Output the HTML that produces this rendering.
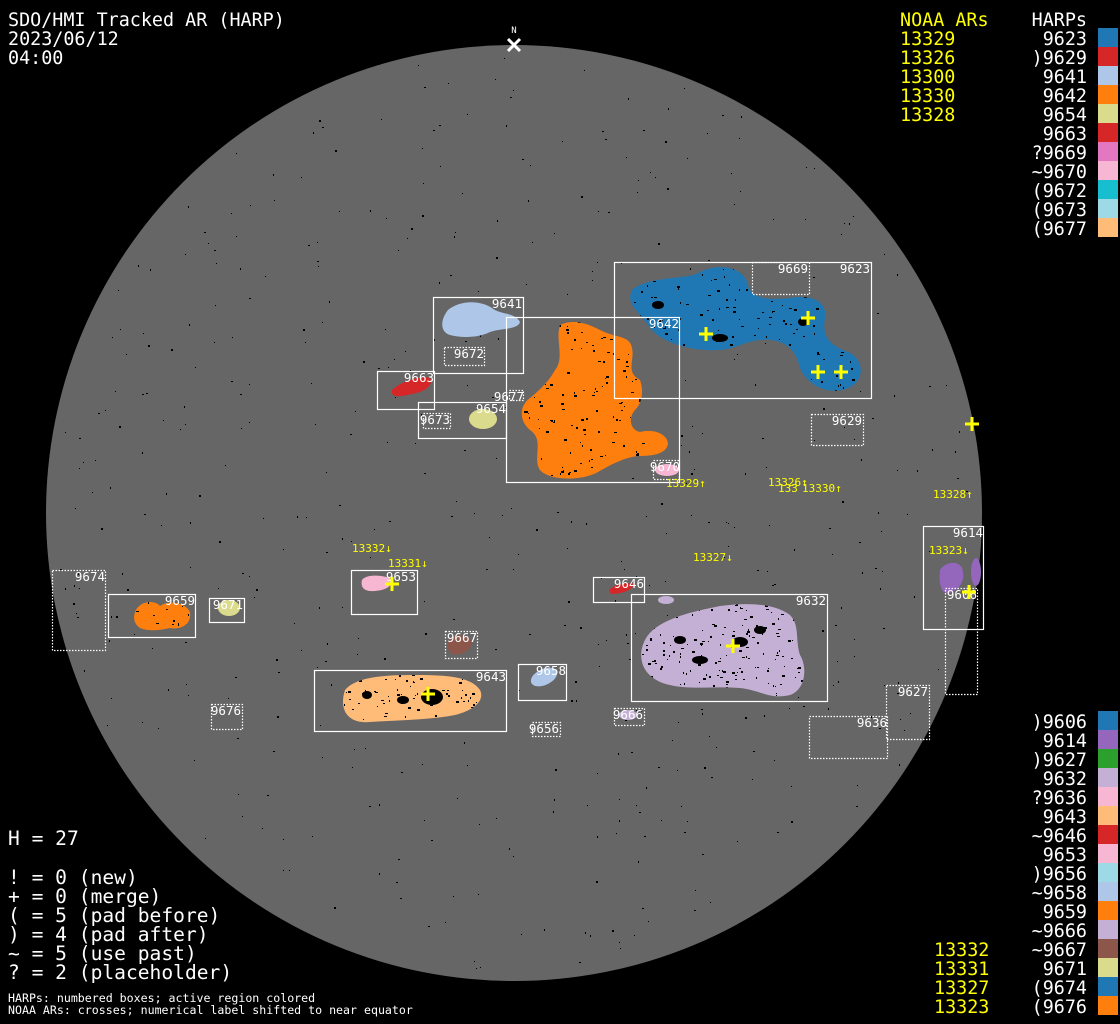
<!DOCTYPE html>
<html><head><meta charset="utf-8"><style>
html,body{margin:0;padding:0;background:#000;}
svg{display:block;}
text{font-family:"DejaVu Sans Mono","Liberation Mono",monospace;}
</style></head><body>
<svg id="s" width="1120" height="1024" viewBox="0 0 1120 1024" xmlns="http://www.w3.org/2000/svg">
<defs>
<path id="bB" d="M632,290 C650,275 690,280 700,272 C720,262 745,268 748,285 C752,300 770,300 790,298 C812,294 828,302 825,318 C822,335 828,345 848,352 C866,360 866,385 842,390 C820,394 805,380 800,368 C796,350 785,338 760,340 C740,342 735,352 705,350 C680,348 660,340 650,328 C640,312 625,305 632,290 Z"/>
<path id="bO" d="M560,325 C575,318 590,325 600,330 C615,338 630,335 632,348 C635,360 625,372 640,380 C645,395 640,405 635,410 C628,418 630,430 640,432 C655,428 668,435 668,444 C666,455 650,456 638,456 C625,457 610,465 598,472 C580,482 548,480 540,470 C532,458 545,440 530,430 C518,420 520,405 530,398 C540,390 550,380 555,370 C565,358 555,340 560,325 Z"/>
<path id="bP" d="M645,640 C655,620 690,612 720,606 C750,602 775,604 790,615 C800,625 795,640 800,655 C808,668 805,690 790,695 C770,700 760,690 740,688 C715,686 690,690 670,685 C645,680 635,660 645,640 Z"/>
<path id="bT" d="M345,690 C355,678 380,675 410,675 C440,675 470,675 480,690 C485,700 475,710 455,715 C430,720 400,720 370,722 C350,724 338,712 345,690 Z"/>
<path id="bF" d="M135,612 C140,600 155,600 160,606 C168,600 185,602 190,612 C192,625 180,630 170,628 C160,630 150,632 140,628 C134,624 133,618 135,612 Z"/>
<clipPath id="cp"><use href="#bB"/><use href="#bO"/><use href="#bP"/><use href="#bT"/><use href="#bF"/></clipPath>
</defs>
<rect width="1120" height="1024" fill="#000"/>
<circle cx="514" cy="513" r="468" fill="#666666"/>
<g id="dots"></g>

<use href="#bB" fill="#1f77b4"/>
<use href="#bO" fill="#ff7f0e"/>
<path fill="#aec7e8" d="M448,310 C460,300 480,300 492,308 C500,315 515,312 520,322 C518,330 500,328 490,332 C478,338 462,338 450,335 C440,332 440,320 448,310 Z"/>
<path fill="#d62728" d="M392,390 C400,382 420,375 430,378 C434,385 425,392 412,394 C400,397 390,398 392,390 Z"/>
<ellipse cx="483" cy="419" rx="14" ry="10" fill="#dbdb8d"/>
<ellipse cx="667" cy="470" rx="12" ry="6" fill="#f7b6d2"/>
<path fill="#9467bd" d="M940,570 C945,562 958,560 962,568 C966,580 960,588 952,592 C944,596 938,590 940,570 Z"/>
<ellipse cx="976" cy="572" rx="5" ry="14" fill="#9467bd"/>
<use href="#bP" fill="#c5b0d5"/>
<ellipse cx="666" cy="600" rx="8" ry="4" fill="#c5b0d5"/>
<ellipse cx="628" cy="715" rx="9" ry="5" fill="#c5b0d5"/>
<path fill="#f7b6d2" d="M362,580 C366,574 382,575 390,578 C394,585 388,590 375,591 C365,592 360,588 362,580 Z"/>
<path fill="#d62728" d="M609,590 C615,584 628,582 634,584 C632,591 620,594 611,594 Z"/>
<path fill="#8c564b" d="M449,640 C455,632 470,635 472,642 C470,652 460,656 452,654 C447,650 447,645 449,640 Z"/>
<use href="#bF" fill="#ff7f0e"/>
<ellipse cx="229" cy="608" rx="11" ry="8" fill="#dbdb8d"/>
<use href="#bT" fill="#ffbb78"/>
<ellipse cx="544" cy="677" rx="14" ry="8" fill="#aec7e8" transform="rotate(-25 544 677)"/>
<g id="specks" clip-path="url(#cp)" fill="#000"></g>
<g fill="#000">
<ellipse cx="432" cy="697" rx="11" ry="8"/><ellipse cx="367" cy="695" rx="5" ry="4"/><ellipse cx="403" cy="700" rx="6" ry="4"/>
<ellipse cx="720" cy="338" rx="8" ry="4"/><ellipse cx="658" cy="305" rx="6" ry="4"/><ellipse cx="803" cy="322" rx="5" ry="4"/>
<ellipse cx="740" cy="642" rx="8" ry="5"/><ellipse cx="700" cy="660" rx="8" ry="4"/><ellipse cx="680" cy="640" rx="6" ry="4"/><ellipse cx="760" cy="630" rx="6" ry="4"/>
</g>

<g fill="none" stroke="#fff" stroke-width="1.2">
<rect x="614.5" y="262.5" width="257" height="136"/>
<rect x="506.5" y="317.5" width="173" height="165"/>
<rect x="433.5" y="297.5" width="90" height="76"/>
<rect x="377.5" y="371.5" width="57" height="38"/>
<rect x="418.5" y="402.5" width="88" height="36"/>
<rect x="923.5" y="526.5" width="60" height="103"/>
<rect x="631.5" y="594.5" width="196" height="107"/>
<rect x="593.5" y="577.5" width="51" height="25"/>
<rect x="351.5" y="570.5" width="66" height="44"/>
<rect x="108.5" y="594.5" width="87" height="43"/>
<rect x="209.5" y="598.5" width="35" height="24"/>
<rect x="314.5" y="670.5" width="192" height="61"/>
<rect x="518.5" y="664.5" width="48" height="36"/>
</g>
<g fill="none" stroke="#fff" stroke-width="1.2" stroke-dasharray="1.5 1.5">
<rect x="752.5" y="262.5" width="57" height="32"/>
<rect x="444.5" y="347.5" width="40" height="18"/>
<rect x="423.5" y="413.5" width="27" height="15"/>
<rect x="509.5" y="390.5" width="14" height="10"/>
<rect x="653.5" y="460.5" width="26" height="19"/>
<rect x="811.5" y="414.5" width="52" height="31"/>
<rect x="945.5" y="588.5" width="32" height="106"/>
<rect x="886.5" y="685.5" width="43" height="54"/>
<rect x="809.5" y="716.5" width="78" height="42"/>
<rect x="445.5" y="631.5" width="32" height="27"/>
<rect x="52.5" y="570.5" width="53" height="80"/>
<rect x="532.5" y="722.5" width="28" height="14"/>
<rect x="614.5" y="708.5" width="30" height="17"/>
<rect x="211.5" y="704.5" width="31" height="25"/>
</g>
<g fill="#fff" font-size="12.5" text-anchor="end">
<text x="870" y="273">9623</text><text x="808" y="273">9669</text>
<text x="679" y="328">9642</text><text x="522" y="308">9641</text>
<text x="484" y="358">9672</text><text x="434" y="382">9663</text>
<text x="506" y="413">9654</text><text x="450" y="424">9673</text>
<text x="524" y="401">9677</text><text x="680" y="471">9670</text>
<text x="862" y="425">9629</text><text x="983" y="537">9614</text>
<text x="977" y="599">9606</text><text x="928" y="696">9627</text>
<text x="887" y="727">9636</text><text x="826" y="605">9632</text>
<text x="644" y="588">9646</text><text x="416" y="581">9653</text>
<text x="477" y="642">9667</text><text x="195" y="605">9659</text>
<text x="243" y="609">9671</text><text x="105" y="581">9674</text>
<text x="506" y="681">9643</text><text x="566" y="675">9658</text>
<text x="559" y="733">9656</text><text x="643" y="719">9666</text>
<text x="241" y="715">9676</text>
</g>

<g stroke="#ffff00" stroke-width="3">
<path d="M699,334h14M706,327v14"/><path d="M801,318h14M808,311v14"/>
<path d="M811,372h14M818,365v14"/><path d="M834,372h14M841,365v14"/>
<path d="M965,424h14M972,417v14"/><path d="M385,584h14M392,577v14"/>
<path d="M726,646h14M733,639v14"/><path d="M421,694h14M428,687v14"/>
<path d="M962,592h14M969,585v14"/>
</g>
<g fill="#ffff00" font-size="11">
<text x="666" y="487">13329↑</text><text x="768" y="486">13326↑</text>
<text x="778" y="492">133</text><text x="802" y="492">13330↑</text>
<text x="933" y="498">13328↑</text><text x="352" y="552">13332↓</text>
<text x="388" y="567">13331↓</text><text x="693" y="561">13327↓</text>
<text x="929" y="554">13323↓</text>
</g>

<text x="514" y="33" fill="#fff" font-size="9" text-anchor="middle">N</text>
<path d="M508,39l12,12M520,39l-12,12" stroke="#fff" stroke-width="3"/>

<g fill="#fff" font-size="18.4">
<text x="8" y="26">SDO/HMI Tracked AR (HARP)</text>
<text x="8" y="45">2023/06/12</text>
<text x="8" y="64">04:00</text>
</g>
<g fill="#fff" font-size="19.6">
<text x="8" y="845">H = 27</text>
<text x="8" y="884">! = 0 (new)</text>
<text x="8" y="903">+ = 0 (merge)</text>
<text x="8" y="922">( = 5 (pad before)</text>
<text x="8" y="941">) = 4 (pad after)</text>
<text x="8" y="960">~ = 5 (use past)</text>
<text x="8" y="979">? = 2 (placeholder)</text>
</g>
<g fill="#fff" font-size="11.6">
<text x="8" y="1002">HARPs: numbered boxes; active region colored</text>
<text x="8" y="1014">NOAA ARs: crosses; numerical label shifted to near equator</text>
</g>
<g fill="#ffff00" font-size="18.4">
<text x="900" y="26">NOAA ARs</text>
<text x="900" y="45">13329</text><text x="900" y="64">13326</text><text x="900" y="83">13300</text>
<text x="900" y="102">13330</text><text x="900" y="121">13328</text>
<text x="934" y="956">13332</text><text x="934" y="975">13331</text><text x="934" y="994">13327</text><text x="934" y="1013">13323</text>
</g>
<g fill="#fff" font-size="18.4" text-anchor="end" id="leg">
<text x="1087" y="26">HARPs</text>
</g>
</svg>
<script>
(function(){
var NS="http://www.w3.org/2000/svg";
var leg=document.getElementById("leg");
var s=document.getElementById("s");
var top=[["9623","#1f77b4"],[")9629","#d62728"],["9641","#aec7e8"],["9642","#ff7f0e"],["9654","#dbdb8d"],["9663","#d62728"],["?9669","#e377c2"],["~9670","#f7b6d2"],["(9672","#17becf"],["(9673","#9edae5"],["(9677","#ffbb78"]];
var bot=[[")9606","#1f77b4"],["9614","#9467bd"],[")9627","#2ca02c"],["9632","#c5b0d5"],["?9636","#f7b6d2"],["9643","#ffbb78"],["~9646","#d62728"],["9653","#f7b6d2"],[")9656","#9edae5"],["~9658","#aec7e8"],["9659","#ff7f0e"],["~9666","#c5b0d5"],["~9667","#8c564b"],["9671","#dbdb8d"],["(9674","#1f77b4"],["(9676","#ff7f0e"]];
function add(list,y0){list.forEach(function(r,i){var y=y0+i*19;
var t=document.createElementNS(NS,"text");t.setAttribute("x","1087");t.setAttribute("y",y+17);t.textContent=r[0];leg.appendChild(t);
var q=document.createElementNS(NS,"rect");q.setAttribute("x","1098");q.setAttribute("y",y);q.setAttribute("width","20");q.setAttribute("height","19");q.setAttribute("fill",r[1]);s.appendChild(q);});}
add(top,28);add(bot,711);
var seed=7;function rnd(){seed=(seed*16807)%2147483647;return seed/2147483647;}
var d=document.getElementById("dots"),h="";
for(var i=0;i<700;i++){var x=46+rnd()*936,y=45+rnd()*936;if((x-514)*(x-514)+(y-513)*(y-513)>460*460)continue;
h+='<rect x="'+x.toFixed(0)+'" y="'+y.toFixed(0)+'" width="'+(rnd()<0.3?2:1)+'" height="'+(rnd()<0.3?2:1)+'"/>';}
d.innerHTML=h;d.setAttribute("fill","#000");
var sp=document.getElementById("specks"),g="";
var regs=[[520,320,150,160,180],[625,265,240,130,200],[640,600,170,100,200],[340,672,145,52,80],[132,598,62,35,25]];
regs.forEach(function(r){for(var i=0;i<r[4];i++){var x=r[0]+rnd()*r[2],y=r[1]+rnd()*r[3];
g+='<rect x="'+x.toFixed(0)+'" y="'+y.toFixed(0)+'" width="'+(1+Math.floor(rnd()*3))+'" height="'+(1+Math.floor(rnd()*2))+'"/>';}});
sp.innerHTML=g;
})();
</script>
</body></html>
